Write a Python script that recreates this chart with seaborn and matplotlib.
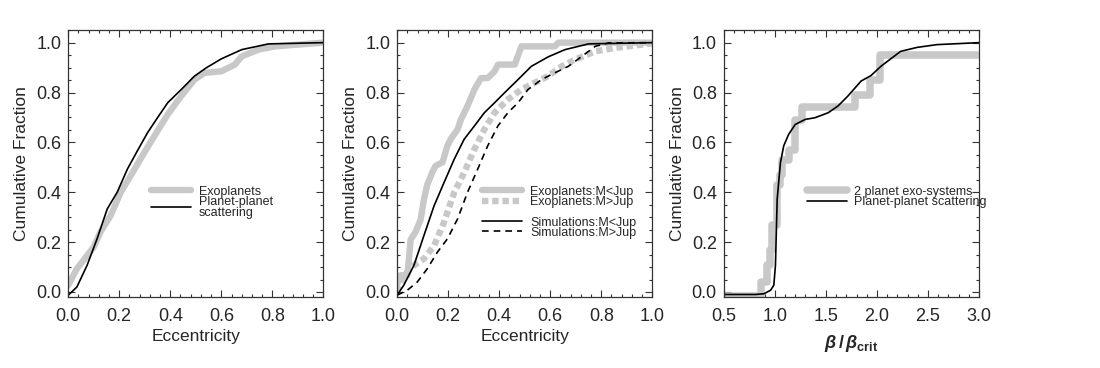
import numpy as np
import pandas as pd
import matplotlib
matplotlib.use("Agg")
import matplotlib.pyplot as plt
from matplotlib.ticker import AutoMinorLocator, MultipleLocator
import seaborn as sns

# ---------------- data ----------------
# Panel 1
p1_exo_e = [0.0, 0.034, 0.074, 0.10, 0.126, 0.166, 0.206, 0.252, 0.298, 0.35, 0.39, 0.443,
            0.495, 0.535, 0.60, 0.653, 0.68, 0.746, 0.81, 1.0]
p1_exo_f = [0.027, 0.093, 0.146, 0.18, 0.24, 0.306, 0.40, 0.479, 0.559, 0.646, 0.712, 0.786,
            0.852, 0.879, 0.885, 0.912, 0.945, 0.972, 0.985, 1.0]
p1_sim_e = [0.0, 0.034, 0.074, 0.113, 0.153, 0.192, 0.232, 0.271, 0.311, 0.35, 0.39, 0.443,
            0.495, 0.541, 0.60, 0.68, 0.785, 1.0]
p1_sim_f = [-0.013, 0.02, 0.107, 0.213, 0.333, 0.40, 0.493, 0.566, 0.639, 0.699, 0.759, 0.812,
            0.866, 0.899, 0.935, 0.972, 0.995, 1.0]

# Panel 2
p2_exo_lo_e = [0.0, 0.013, 0.04, 0.046, 0.053, 0.072, 0.092, 0.105, 0.118, 0.138, 0.151, 0.178,
               0.197, 0.21, 0.237, 0.25, 0.276, 0.303, 0.329, 0.355, 0.382, 0.395, 0.461, 0.487,
               0.618, 0.632, 1.0]
p2_exo_lo_f = [0.03, 0.067, 0.067, 0.13, 0.21, 0.24, 0.29, 0.37, 0.43, 0.48, 0.506, 0.52,
               0.586, 0.613, 0.652, 0.692, 0.746, 0.812, 0.858, 0.858, 0.885, 0.912, 0.912, 0.985,
               0.985, 1.0, 1.0]
p2_exo_hi_e = [0.0, 0.026, 0.066, 0.105, 0.145, 0.184, 0.224, 0.263, 0.303, 0.342, 0.382, 0.434,
               0.487, 0.539, 0.592, 0.645, 0.697, 0.776, 0.855, 1.0]
p2_exo_hi_f = [0.0, 0.067, 0.107, 0.133, 0.186, 0.28, 0.40, 0.479, 0.573, 0.652, 0.719, 0.772,
               0.812, 0.839, 0.866, 0.905, 0.932, 0.965, 0.979, 0.997]
p2_sim_lo_e = [0.0, 0.026, 0.066, 0.105, 0.145, 0.184, 0.224, 0.263, 0.303, 0.342, 0.382, 0.421,
               0.474, 0.526, 0.592, 0.658, 0.75, 1.0]
p2_sim_lo_f = [-0.013, 0.027, 0.107, 0.226, 0.346, 0.439, 0.533, 0.613, 0.666, 0.719, 0.759, 0.799,
               0.852, 0.905, 0.943, 0.972, 0.995, 1.0]
p2_sim_hi_e = [0.0, 0.04, 0.079, 0.118, 0.158, 0.197, 0.237, 0.276, 0.316, 0.355, 0.395, 0.434,
               0.474, 0.513, 0.566, 0.618, 0.671, 0.724, 0.776, 0.829, 1.0]
p2_sim_hi_f = [-0.013, 0.007, 0.04, 0.093, 0.16, 0.213, 0.293, 0.40, 0.493, 0.586, 0.666, 0.719,
               0.759, 0.812, 0.852, 0.879, 0.905, 0.945, 0.985, 0.999, 1.0]

# Panel 3
p3_exo_b = [0.5, 0.86, 0.92, 0.95, 0.97, 1.02, 1.05, 1.07, 1.14, 1.20, 1.27, 1.79, 1.93, 2.03, 3.0]
p3_exo_f = [-0.015, 0.04, 0.11, 0.17, 0.27, 0.43, 0.47, 0.53, 0.57, 0.69, 0.74, 0.79, 0.85, 0.95, 0.95]
p3_sim_b = [0.5, 0.813, 0.894, 0.958, 0.99, 1.006, 1.023, 1.055, 1.087, 1.135, 1.2, 1.297, 1.394,
            1.523, 1.619, 1.716, 1.845, 1.942, 2.039, 2.103, 2.232, 2.394, 2.587, 3.0]
p3_sim_f = [-0.01, -0.01, -0.007, 0.007, 0.027, 0.107, 0.373, 0.519, 0.586, 0.632, 0.672, 0.692,
            0.699, 0.719, 0.746, 0.786, 0.846, 0.868, 0.905, 0.925, 0.965, 0.981, 0.992, 1.0]

x_ticks_ecc = [0.0, 0.2, 0.4, 0.6, 0.8, 1.0]
x_ticks_beta = [0.5, 1.0, 1.5, 2.0, 2.5, 3.0]
y_ticks = [0.0, 0.2, 0.4, 0.6, 0.8, 1.0]

# ---------------- style ----------------
sns.set_theme(style="ticks")
plt.rcParams['font.family'] = ['Liberation Sans', 'DejaVu Sans']
plt.rcParams['mathtext.fontset'] = 'custom'
plt.rcParams['mathtext.rm'] = 'Liberation Sans'
plt.rcParams['mathtext.it'] = 'Liberation Sans:italic'
plt.rcParams['mathtext.bf'] = 'Liberation Sans:bold'
plt.rcParams['mathtext.bfit'] = 'Liberation Sans:bold:italic'

GRAY = '#c8c8c8'
SPINE = '#333333'
W_GRAY = 4.6
W_BLK = 1.2
LEG_KW = dict(loc='upper left', frameon=False, fontsize=9, handlelength=3.2,
              handletextpad=0.6, labelspacing=-0.15, borderpad=0)

fig = plt.figure(figsize=(11.0, 3.68), dpi=100)
lefts = [0.062, 0.361, 0.658]
axes = [fig.add_axes([l, 0.193, 0.232, 0.725]) for l in lefts]


def style_axis(ax, xlim, xticks):
    ax.set_xlim(*xlim)
    ax.set_ylim(-0.02, 1.05)
    ax.set_xticks(xticks)
    ax.set_yticks(y_ticks)
    ax.xaxis.set_minor_locator(AutoMinorLocator(5))
    ax.yaxis.set_minor_locator(AutoMinorLocator(4))
    ax.tick_params(which='both', direction='in', top=True, right=True, color=SPINE, width=0.8)
    ax.tick_params(which='major', length=5, labelsize=13)
    ax.tick_params(axis='x', which='major', pad=8)
    ax.tick_params(axis='y', which='major', pad=5)
    ax.tick_params(which='minor', length=2.5)
    ax.xaxis.set_major_formatter(matplotlib.ticker.FormatStrFormatter('%.1f'))
    ax.yaxis.set_major_formatter(matplotlib.ticker.FormatStrFormatter('%.1f'))
    for s in ax.spines.values():
        s.set_color(SPINE)
        s.set_linewidth(0.9)
    ax.set_ylabel("Cumulative Fraction", fontsize=12.5, labelpad=5)


def fix_legend(leg):
    for t in leg.get_texts():
        t.set_linespacing(0.85)
    return leg


# Panel 1
ax = axes[0]
d1a = pd.DataFrame({'e': p1_exo_e, 'f': p1_exo_f})
d1b = pd.DataFrame({'e': p1_sim_e, 'f': p1_sim_f})
sns.lineplot(data=d1a, x='e', y='f', ax=ax, color=GRAY, lw=W_GRAY, sort=False,
             label='Exoplanets')
sns.lineplot(data=d1b, x='e', y='f', ax=ax, color='black', lw=W_BLK, sort=False,
             label='Planet-planet\nscattering')
style_axis(ax, (0, 1), x_ticks_ecc)
ax.set_xlabel("Eccentricity", fontsize=12.5, labelpad=3)
fix_legend(ax.legend(bbox_to_anchor=(0.30, 0.44), **LEG_KW))

# Panel 2
ax = axes[1]
l1, = ax.plot(p2_exo_lo_e, p2_exo_lo_f, color=GRAY, lw=W_GRAY, label='Exoplanets:M<Jup')
l2, = ax.plot(p2_exo_hi_e, p2_exo_hi_f, color=GRAY, lw=W_GRAY, ls=(0, (1.0, 0.6)),
              label='Exoplanets:M>Jup')
d2c = pd.DataFrame({'e': p2_sim_lo_e, 'f': p2_sim_lo_f})
d2d = pd.DataFrame({'e': p2_sim_hi_e, 'f': p2_sim_hi_f})
sns.lineplot(data=d2c, x='e', y='f', ax=ax, color='black', lw=W_BLK, sort=False)
sns.lineplot(data=d2d, x='e', y='f', ax=ax, color='black', lw=W_BLK, sort=False, ls=(0, (4, 3)))
l3 = ax.lines[-2]
l4 = ax.lines[-1]
l3.set_label('Simulations:M<Jup')
l4.set_label('Simulations:M>Jup')
style_axis(ax, (0, 1), x_ticks_ecc)
ax.set_xlabel("Eccentricity", fontsize=12.5, labelpad=3)
leg1 = ax.legend(handles=[l1, l2], bbox_to_anchor=(0.31, 0.44), **LEG_KW)
ax.add_artist(leg1)
ax.legend(handles=[l3, l4], bbox_to_anchor=(0.31, 0.325), **LEG_KW)

# Panel 3
ax = axes[2]
d3a = pd.DataFrame({'b': p3_exo_b, 'f': p3_exo_f})
d3b = pd.DataFrame({'b': p3_sim_b, 'f': p3_sim_f})
sns.lineplot(data=d3a, x='b', y='f', ax=ax, color=GRAY, lw=W_GRAY + 0.8, sort=False,
             drawstyle='steps-post', label='2 planet exo-systems')
sns.lineplot(data=d3b, x='b', y='f', ax=ax, color='black', lw=W_BLK, sort=False,
             label='Planet-planet scattering')
style_axis(ax, (0.5, 3.0), x_ticks_beta)
ax.set_xlabel(r"$\boldsymbol{\beta}\,\mathbf{/}\,\boldsymbol{\beta}_{\mathbf{crit}}$",
              fontsize=13, labelpad=6)
ax.legend(bbox_to_anchor=(0.30, 0.44), **LEG_KW)

fig.savefig("out.png", dpi=100)
